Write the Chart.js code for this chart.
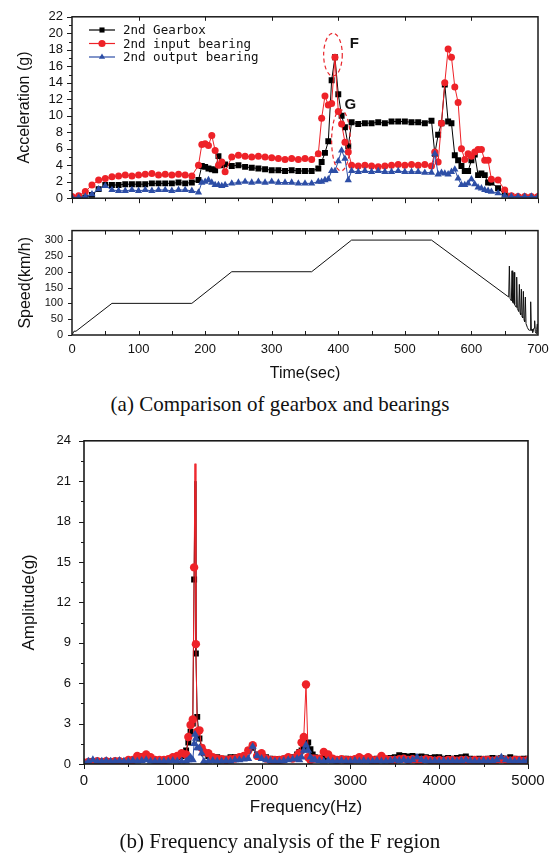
<!DOCTYPE html>
<html>
<head>
<meta charset="utf-8">
<script src="https://cdn.jsdelivr.net/npm/chart.js@4.4.1/dist/chart.umd.min.js"></script>
<style>
  body { margin: 0; background: #fff; width: 560px; height: 854px; position: relative; overflow: hidden; }
  canvas { position: absolute; left: 0; }
  .cap { position: absolute; left: 0; width: 560px; text-align: center; font: 21px "Liberation Serif", "Times New Roman", serif; color: #111; }
</style>
</head>
<body>
<canvas id="graficoAcc" width="560" height="215" style="top:0"></canvas>
<canvas id="graficoVel" width="560" height="170" style="top:215px"></canvas>
<div class="cap" style="top:392px">(a) Comparison of gearbox and bearings</div>
<canvas id="graficoFreq" width="560" height="410" style="top:420px"></canvas>
<div class="cap" style="top:829px">(b) Frequency analysis of the F region</div>
<script>
// ---- dados: aceleração x tempo (s)
const tempos = [
  0, 10, 20, 30, 40, 50, 60, 70, 80, 90,
  100, 110, 120, 130, 140, 150, 160, 170, 180, 190,
  195, 200, 205, 210, 215, 220, 225, 230,
  240, 250, 260, 270, 280, 290, 300, 310, 320, 330, 340, 350, 360, 370,
  375, 380, 385, 390, 395, 400, 405, 410, 415, 420,
  430, 440, 450, 460, 470, 480, 490, 500, 510, 520, 530, 540,
  545, 550, 555, 560, 565, 570, 575, 580, 585, 590, 595, 600, 605, 610, 615, 620, 625, 630,
  640, 650, 660, 670, 680, 690, 700
];
const accGearbox = [
  0.0, 0.0, 0.1, 0.4, 1.1, 1.6, 1.6, 1.6, 1.7, 1.7,
  1.7, 1.7, 1.8, 1.8, 1.8, 1.8, 1.9, 1.8, 1.9, 2.2,
  3.9, 3.8, 3.6, 3.5, 3.4, 5.1, 4.0, 4.1,
  3.9, 4.0, 3.8, 3.7, 3.6, 3.5, 3.4, 3.4, 3.3, 3.4, 3.3, 3.3, 3.3, 3.6,
  4.4, 5.5, 6.9, 14.3, 17.1, 12.6, 10.0, 8.6, 6.3, 9.2,
  9.0, 9.1, 9.1, 9.2, 9.1, 9.3, 9.3, 9.3, 9.2, 9.2, 9.1, 9.4,
  5.4, 7.7, 9.1, 13.8, 9.3, 9.1, 5.2, 4.6, 3.9, 3.3, 3.3, 4.6, 5.3, 2.8, 3.0, 2.8, 1.9, 1.9,
  1.2, 0.5, 0.2, 0.1, 0.1, 0.1, 0.1
];
const accInput = [
  0.2, 0.3, 0.8, 1.6, 2.2, 2.4, 2.6, 2.7, 2.8, 2.7,
  2.8, 2.9, 3.0, 2.8, 2.9, 2.8, 2.9, 2.8, 2.7, 4.0,
  6.5, 6.6, 6.4, 7.6, 5.8, 4.0, 4.4, 3.2,
  5.0, 5.2, 5.1, 5.0, 5.1, 5.0, 4.9, 4.8, 4.7, 4.8, 4.7, 4.8, 4.7, 5.4,
  9.7, 12.4, 11.3, 11.5, 17.1, 10.5, 9.0, 6.8, 5.6, 4.0,
  3.9, 4.0, 3.9, 3.8, 3.9, 4.0, 4.1, 4.0, 4.1, 4.0, 4.1, 3.9,
  5.6, 4.4, 9.1, 14.0, 18.1, 17.1, 13.5, 11.6, 6.0, 4.7, 5.4, 5.1, 5.6, 5.9, 5.9, 4.6, 4.6, 2.3,
  2.2, 1.0, 0.3, 0.2, 0.2, 0.2, 0.2
];
const accOutput = [
  0.1, 0.1, 0.2, 0.5, 1.1, 1.5, 1.0, 0.9, 0.9, 1.0,
  0.9, 1.0, 0.9, 1.0, 1.0, 0.9, 1.0, 1.0, 0.9, 0.7,
  1.9, 2.0, 2.2, 1.9, 1.6, 1.6, 1.5, 1.6,
  1.8, 1.9, 2.0, 1.9, 2.0, 1.9, 2.0, 1.9, 1.9, 1.9, 1.8, 1.8, 1.8, 2.0,
  2.0, 2.2, 2.3, 3.3, 3.3, 4.5, 5.8, 4.8, 2.2, 3.3,
  3.2, 3.3, 3.2, 3.3, 3.2, 3.2, 3.3, 3.2, 3.2, 3.2, 3.1, 3.1,
  5.4, 2.9, 3.1, 3.0, 2.9, 3.2, 3.5, 2.4, 1.6, 1.6, 1.8, 2.3, 1.7, 1.3, 1.2, 1.0, 0.9, 0.8,
  0.6, 0.3, 0.2, 0.2, 0.2, 0.2, 0.2
];

// ---- dados: velocidade (km/h)
const velTempos = [
  0, 3, 6, 60, 180, 240, 360, 420, 540,
  656, 657, 658, 660, 661, 662, 663, 664, 665,
  667, 668, 669, 671, 672, 673, 674, 675, 676,
  677, 678, 679, 680, 681, 682,
  684, 686, 687, 688, 689, 690,
  691, 692, 694, 695, 696, 697, 698, 699, 700
];
const velKmh = [
  0, 12, 12, 100, 100, 200, 200, 300, 300,
  120, 218, 116, 108, 203, 104, 100, 198, 96,
  88, 183, 84, 74, 160, 70, 64, 145, 58,
  54, 138, 48, 42, 120, 36,
  24, 16, 15, 15, 105, 14,
  18, 8, 22, 45, 10, 5, 18, 35, 4
];

// ---- dados: espectro da região F
const freqs = [
  0, 50, 100, 150, 200, 250, 300, 350, 400, 450, 500, 550,
  600, 650, 700, 750, 800, 850, 900, 950, 1000, 1050, 1100, 1150,
  1175, 1200, 1225, 1240, 1250, 1260, 1275, 1300, 1325, 1350,
  1400, 1450, 1500, 1550, 1600, 1650, 1700, 1750, 1800, 1850, 1900,
  1950, 2000, 2050, 2100, 2150, 2200, 2250, 2300, 2350, 2400,
  2425, 2450, 2475, 2500, 2525, 2550, 2575,
  2600, 2650, 2700, 2750, 2800, 2850, 2900, 2950, 3000, 3050,
  3100, 3150, 3200, 3250, 3300, 3350, 3400, 3450, 3500, 3550,
  3600, 3650, 3700, 3750, 3800, 3850, 3900, 3950, 4000, 4050,
  4100, 4150, 4200, 4250, 4300, 4350, 4400, 4450, 4500, 4550,
  4600, 4650, 4700, 4750, 4800, 4850, 4900, 4950, 5000
];
const ampGearbox = [
  0.1, 0.15, 0.2, 0.15, 0.2, 0.15, 0.2, 0.2, 0.15, 0.2, 0.25, 0.3,
  0.5, 0.6, 0.5, 0.4, 0.3, 0.3, 0.25, 0.3, 0.4, 0.5, 0.6, 1.0,
  1.6, 2.4, 3.0, 13.7, 21.0, 8.2, 3.5, 1.9, 1.2, 0.8,
  0.6, 0.5, 0.5, 0.4, 0.4, 0.5, 0.5, 0.5, 0.6, 1.0, 1.2,
  0.7, 0.5, 0.5, 0.4, 0.35, 0.35, 0.4, 0.4, 0.5, 0.7,
  0.9, 1.0, 1.2, 1.4, 1.6, 1.1, 0.7,
  0.5, 0.45, 0.5, 0.45, 0.4, 0.35, 0.35, 0.4, 0.35, 0.35,
  0.4, 0.35, 0.4, 0.35, 0.4, 0.45, 0.4, 0.45, 0.5, 0.65,
  0.6, 0.55, 0.6, 0.5, 0.55, 0.5, 0.45, 0.5, 0.5, 0.4,
  0.45, 0.4, 0.45, 0.5, 0.55, 0.4, 0.35, 0.4, 0.35, 0.4,
  0.45, 0.4, 0.45, 0.4, 0.5, 0.4, 0.35, 0.4, 0.4
];
const ampInput = [
  0.1, 0.15, 0.15, 0.2, 0.15, 0.2, 0.15, 0.2, 0.2, 0.15, 0.3, 0.3,
  0.6, 0.5, 0.7, 0.5, 0.3, 0.3, 0.3, 0.35, 0.5, 0.6, 0.8, 0.7,
  2.0, 2.9, 3.3, 14.6, 22.3, 8.9, 2.4, 2.5, 1.2, 0.9,
  0.8, 0.5, 0.4, 0.35, 0.3, 0.35, 0.4, 0.5, 0.6, 1.0, 1.4,
  0.6, 0.8, 0.4, 0.3, 0.3, 0.3, 0.35, 0.5, 0.4, 0.6,
  0.8, 1.6, 2.0, 5.9, 0.5, 0.3, 0.4,
  0.4, 0.4, 0.9, 0.7, 0.4, 0.3, 0.35, 0.3, 0.3, 0.35,
  0.5, 0.35, 0.5, 0.3, 0.3, 0.6, 0.35, 0.3, 0.3, 0.35,
  0.4, 0.3, 0.35, 0.3, 0.3, 0.35, 0.3, 0.25, 0.3, 0.25,
  0.3, 0.3, 0.25, 0.3, 0.3, 0.25, 0.3, 0.25, 0.3, 0.3,
  0.25, 0.3, 0.35, 0.3, 0.25, 0.3, 0.3, 0.25, 0.3
];
const ampOutput = [
  0.1, 0.2, 0.3, 0.2, 0.2, 0.25, 0.2, 0.2, 0.25, 0.2, 0.2, 0.25,
  0.2, 0.25, 0.3, 0.2, 0.2, 0.2, 0.2, 0.2, 0.25, 0.2, 0.2, 0.2,
  0.3, 0.5, 0.3, 1.5, 2.2, 1.9, 1.2, 1.2, 0.8, 0.2,
  0.2, 0.25, 0.2, 0.2, 0.25, 0.2, 0.3, 0.3, 0.35, 0.4, 1.3,
  0.6, 0.4, 0.3, 0.25, 0.2, 0.2, 0.25, 0.3, 0.35, 0.4,
  0.3, 0.5, 1.0, 1.4, 1.0, 0.5, 0.3,
  0.3, 0.25, 0.2, 0.25, 0.2, 0.2, 0.25, 0.2, 0.2, 0.25,
  0.2, 0.25, 0.2, 0.2, 0.25, 0.2, 0.2, 0.25, 0.3, 0.25,
  0.3, 0.25, 0.3, 0.5, 0.3, 0.25, 0.2, 0.25, 0.2, 0.25,
  0.2, 0.25, 0.2, 0.25, 0.3, 0.25, 0.2, 0.2, 0.25, 0.2,
  0.25, 0.3, 0.5, 0.3, 0.25, 0.2, 0.25, 0.2, 0.3
];

const nomes = ['2nd Gearbox', '2nd input bearing', '2nd output bearing'];
const cores = ['#000000', '#ee2228', '#2d4ea6'];
const marcadores = ['rect', 'circle', 'triangle'];

// regiões F e G (elipses tracejadas)
const regioes = [
  { label: 'F', t: 392, g: 17.4, dt: 14, dg: 2.6, lt: 424, lg: 18.7 },
  { label: 'G', t: 404, g: 7.0, dt: 14, dg: 3.7, lt: 418, lg: 11.3 }
];

const pts = (xs, ys) => xs.map((x, i) => ({ x, y: ys[i] }));
const fonte = '"Liberation Sans", Arial, sans-serif';

function desenhaMarcador(ctx, estilo, x, y, r) {
  ctx.beginPath();
  if (estilo === 'rect') {
    const s = r * Math.SQRT1_2;
    ctx.rect(x - s, y - s, 2 * s, 2 * s);
  } else if (estilo === 'circle') {
    ctx.arc(x, y, r, 0, Math.PI * 2);
  } else {
    ctx.moveTo(x, y - r);
    ctx.lineTo(x + r * 0.866, y + r * 0.5);
    ctx.lineTo(x - r * 0.866, y + r * 0.5);
    ctx.closePath();
  }
  ctx.fill();
}

// moldura + marcas de escala (maiores e menores)
const moldura = {
  id: 'moldura',
  afterDatasetsDraw(chart, args, o) {
    const { ctx, chartArea: a, scales } = chart;
    ctx.save();
    ctx.strokeStyle = '#1a1a1a';
    ctx.lineWidth = 1;
    (o.marcas || []).forEach(m => {
      const sc = scales[m.eixo];
      for (let v = m.de; v <= m.ate + 1e-9; v += m.passo) {
        const p = Math.round(sc.getPixelForValue(v)) + 0.5;
        ctx.beginPath();
        if (m.lado === 'bottom') { ctx.moveTo(p, a.bottom); ctx.lineTo(p, a.bottom + m.len); }
        if (m.lado === 'top') { ctx.moveTo(p, a.top); ctx.lineTo(p, a.top - m.len); }
        if (m.lado === 'left') { ctx.moveTo(a.left, p); ctx.lineTo(a.left - m.len, p); }
        if (m.lado === 'right') { ctx.moveTo(a.right, p); ctx.lineTo(a.right + m.len, p); }
        ctx.stroke();
      }
    });
    ctx.lineWidth = o.espessura || 1.5;
    ctx.strokeRect(a.left, a.top, a.right - a.left, a.bottom - a.top);
    ctx.restore();
  }
};

// legenda dentro da área do gráfico
const legendaInterna = {
  id: 'legendaInterna',
  afterDraw(chart, args, o) {
    if (!o.x) return;
    const ctx = chart.ctx;
    ctx.save();
    ctx.font = o.font;
    ctx.textBaseline = 'middle';
    chart.data.datasets.forEach((ds, i) => {
      const y = o.y + i * o.gap;
      ctx.strokeStyle = ds.borderColor;
      ctx.fillStyle = ds.borderColor;
      ctx.lineWidth = 1.2;
      ctx.beginPath();
      ctx.moveTo(o.x, y);
      ctx.lineTo(o.x + o.len, y);
      ctx.stroke();
      desenhaMarcador(ctx, ds.pointStyle, o.x + o.len / 2, y, o.r);
      ctx.fillStyle = '#111';
      ctx.fillText(ds.label, o.textX, y + 1);
    });
    ctx.restore();
  }
};

// elipses F / G
const regioesPlugin = {
  id: 'regioesPlugin',
  afterDatasetsDraw(chart) {
    const { ctx, scales: { x, y } } = chart;
    ctx.save();
    regioes.forEach(r => {
      const cx = x.getPixelForValue(r.t), cy = y.getPixelForValue(r.g);
      const rx = x.getPixelForValue(r.t + r.dt) - cx;
      const ry = cy - y.getPixelForValue(r.g + r.dg);
      ctx.strokeStyle = '#e8262c';
      ctx.lineWidth = 1.2;
      ctx.setLineDash([4, 3]);
      ctx.beginPath();
      ctx.ellipse(cx, cy, rx, ry, 0, 0, Math.PI * 2);
      ctx.stroke();
      ctx.setLineDash([]);
      ctx.fillStyle = '#111';
      ctx.font = 'bold 15px ' + fonte;
      ctx.textAlign = 'center';
      ctx.textBaseline = 'middle';
      ctx.fillText(r.label, x.getPixelForValue(r.lt), y.getPixelForValue(r.lg));
    });
    ctx.restore();
  }
};

// limite: acima dele o ponto fica só na linha (sem marcador)
function serie(i, xs, ys, raio, limite) {
  return {
    label: nomes[i],
    data: pts(xs, ys),
    borderColor: cores[i],
    backgroundColor: cores[i],
    pointStyle: marcadores[i],
    pointRadius: c => (c.raw && c.raw.y > limite ? 0 : raio[i]),
    pointBorderWidth: 0,
    borderWidth: 1,
    tension: 0,
    order: 2 - i
  };
}

const semGrade = { display: false, drawTicks: false };
const semBorda = { display: false };
const semMilhar = v => String(v);

// ---- gráfico 1: aceleração
new Chart(document.getElementById('graficoAcc'), {
  type: 'line',
  data: {
    datasets: [
      serie(0, tempos, accGearbox, [4.2, 3.5, 4.2], 99),
      serie(1, tempos, accInput, [4.2, 3.5, 4.2], 99),
      serie(2, tempos, accOutput, [4.2, 3.5, 4.2], 99)
    ]
  },
  options: {
    responsive: false,
    animation: false,
    events: [],
    layout: { padding: { top: 14, right: 22, left: 0, bottom: 0 } },
    scales: {
      x: {
        type: 'linear', min: 0, max: 700,
        grid: semGrade, border: semBorda,
        ticks: { display: false },
        afterFit: s => { s.height = 8; }
      },
      y: {
        min: 0, max: 22,
        grid: semGrade, border: semBorda,
        ticks: { stepSize: 2, autoSkip: false, padding: 9, color: '#111', font: { family: fonte, size: 13 } },
        title: { display: true, text: 'Acceleration (g)', color: '#111', font: { family: fonte, size: 16 }, padding: { top: 15, bottom: 0 } },
        afterFit: s => { s.width = 72; }
      }
    },
    plugins: {
      legend: { display: false },
      tooltip: { enabled: false },
      moldura: {
        marcas: [
          { eixo: 'y', lado: 'left', de: 0, ate: 22, passo: 2, len: 5 },
          { eixo: 'y', lado: 'left', de: 1, ate: 21, passo: 2, len: 3 },
          { eixo: 'x', lado: 'bottom', de: 0, ate: 700, passo: 100, len: 5 },
          { eixo: 'x', lado: 'bottom', de: 50, ate: 650, passo: 100, len: 3 },
          { eixo: 'x', lado: 'top', de: 100, ate: 600, passo: 100, len: -4 }
        ]
      },
      legendaInterna: { x: 89, y: 30, gap: 13.5, len: 26, r: 3.6, textX: 123, font: '12.5px "DejaVu Sans Mono", monospace' }
    }
  },
  plugins: [moldura, legendaInterna, regioesPlugin]
});

// ---- gráfico 2: velocidade
new Chart(document.getElementById('graficoVel'), {
  type: 'line',
  data: {
    datasets: [{
      data: pts(velTempos, velKmh),
      borderColor: '#111',
      borderWidth: 1,
      pointRadius: 0,
      tension: 0
    }]
  },
  options: {
    responsive: false,
    animation: false,
    events: [],
    layout: { padding: { top: 14, right: 22, left: 0, bottom: 0 } },
    scales: {
      x: {
        type: 'linear', min: 0, max: 700,
        grid: semGrade, border: semBorda,
        ticks: { stepSize: 100, autoSkip: false, padding: 7, color: '#111', font: { family: fonte, size: 13 }, callback: semMilhar },
        title: { display: true, text: 'Time(sec)', color: '#111', font: { family: fonte, size: 16 }, padding: { top: 0, bottom: 2 } },
        afterFit: s => { s.height = 50; }
      },
      y: {
        min: 0, max: 330,
        grid: semGrade, border: semBorda,
        ticks: { stepSize: 50, includeBounds: false, autoSkip: false, padding: 9, color: '#111', font: { family: fonte, size: 11 } },
        title: { display: true, text: 'Speed(km/h)', color: '#111', font: { family: fonte, size: 16 }, padding: { top: 16, bottom: 0 } },
        afterFit: s => { s.width = 72; }
      }
    },
    plugins: {
      legend: { display: false },
      tooltip: { enabled: false },
      moldura: {
        marcas: [
          { eixo: 'y', lado: 'left', de: 0, ate: 300, passo: 50, len: 4 },
          { eixo: 'x', lado: 'bottom', de: 50, ate: 650, passo: 50, len: -4 },
          { eixo: 'x', lado: 'top', de: 50, ate: 650, passo: 50, len: -4 }
        ]
      }
    }
  },
  plugins: [moldura]
});

// ---- gráfico 3: frequência
new Chart(document.getElementById('graficoFreq'), {
  type: 'line',
  data: {
    datasets: [
      serie(0, freqs, ampGearbox, [4.2, 4.2, 4.6], 16),
      serie(1, freqs, ampInput, [4.2, 4.2, 4.6], 16),
      serie(2, freqs, ampOutput, [4.2, 4.2, 4.6], 16)
    ]
  },
  options: {
    responsive: false,
    animation: false,
    events: [],
    layout: { padding: { top: 17, right: 32, left: 0, bottom: 0 } },
    scales: {
      x: {
        type: 'linear', min: 0, max: 5000,
        grid: semGrade, border: semBorda,
        ticks: { stepSize: 1000, autoSkip: false, padding: 8, color: '#111', font: { family: fonte, size: 15 }, callback: semMilhar },
        title: { display: true, text: 'Frequency(Hz)', color: '#111', font: { family: fonte, size: 17 }, padding: { top: 0, bottom: 12 } },
        afterFit: s => { s.height = 66; }
      },
      y: {
        min: 0, max: 24,
        grid: semGrade, border: semBorda,
        ticks: { stepSize: 3, autoSkip: false, padding: 13, color: '#111', font: { family: fonte, size: 13 } },
        title: { display: true, text: 'Amplitude(g)', color: '#111', font: { family: fonte, size: 17 }, padding: { top: 19, bottom: 0 } },
        afterFit: s => { s.width = 84; }
      }
    },
    plugins: {
      legend: { display: false },
      tooltip: { enabled: false },
      moldura: {
        espessura: 1.6,
        marcas: [
          { eixo: 'y', lado: 'left', de: 0, ate: 24, passo: 3, len: 5 },
          { eixo: 'y', lado: 'left', de: 1.5, ate: 22.5, passo: 3, len: 3 },
          { eixo: 'x', lado: 'bottom', de: 0, ate: 5000, passo: 1000, len: 5 },
          { eixo: 'x', lado: 'bottom', de: 500, ate: 4500, passo: 1000, len: 3 }
        ]
      },
      legendaInterna: { x: 293, y: 463, gap: 22.5, len: 42, r: 4.4, textX: 340, font: '18px ' + fonte }
    }
  },
  plugins: [moldura, legendaInterna]
});
</script>
</body>
</html>
